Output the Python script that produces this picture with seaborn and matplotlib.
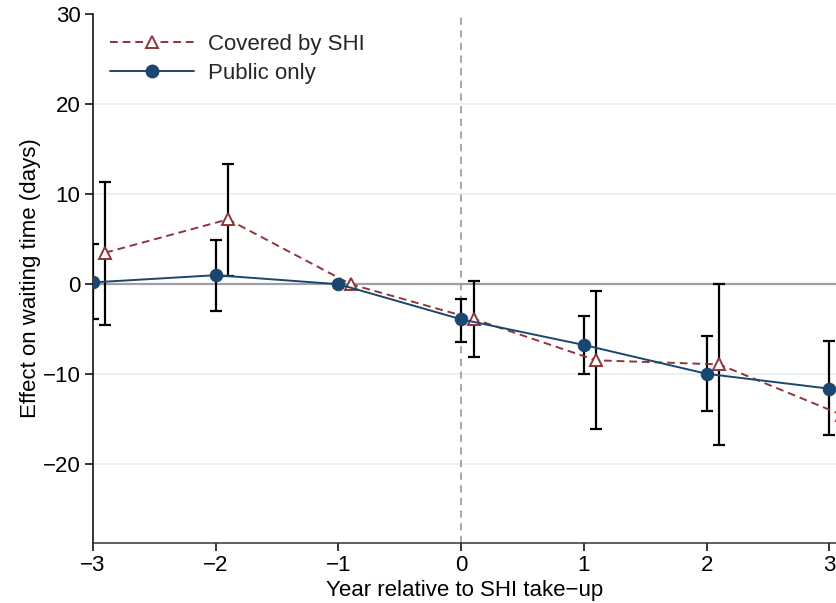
import numpy as np
import pandas as pd
import matplotlib
matplotlib.use("Agg")
import matplotlib.pyplot as plt
from matplotlib.lines import Line2D
import seaborn as sns

# Event-study estimates: effect on waiting time (days) by year relative to SHI take-up
years = [-3, -2, -1, 0, 1, 2, 3]

shi_coef = [3.5, 7.2, 0.0, -3.85, -8.45, -8.9, -14.5]
shi_lo = [-4.5, 0.9, 0.0, -8.1, -16.1, -17.9, -22.0]
shi_hi = [11.4, 13.3, 0.0, 0.4, -0.8, 0.0, -7.0]

pub_coef = [0.2, 1.0, 0.0, -3.9, -6.75, -9.95, -11.6]
pub_lo = [-3.9, -3.0, 0.0, -6.4, -10.0, -14.1, -16.7]
pub_hi = [4.5, 4.9, 0.0, -1.6, -3.5, -5.8, -6.3]

series_names = ["Covered by SHI", "Public only"]
shi_offset = 0.1

sns.set_theme(style="white")
plt.rcParams["font.family"] = ["Liberation Sans", "DejaVu Sans"]
plt.rcParams["axes.unicode_minus"] = True

maroon = "#90353b"
navy = "#1a476f"
FS = 16

df = pd.concat([
    pd.DataFrame({"x": np.array(years) + shi_offset, "y": shi_coef,
                  "lo": shi_lo, "hi": shi_hi, "group": series_names[0]}),
    pd.DataFrame({"x": np.array(years, dtype=float), "y": pub_coef,
                  "lo": pub_lo, "hi": pub_hi, "group": series_names[1]}),
], ignore_index=True)

fig = plt.figure(figsize=(8.36, 6.03), dpi=100)
ax = fig.add_axes([93 / 836, 1 - 542.7 / 603, (836 - 93) / 836, (542.7 - 14) / 603])

# light horizontal grid, zero line and take-up marker
for gy in [-20, -10, 10, 20]:
    ax.axhline(gy, color="#e8f0f2", lw=1.3, zorder=0)
ax.axhline(0, color="#a0a0a0", lw=1.6, zorder=1)
ax.axvline(0, color="#a0a0a0", lw=1.3, ls=(0, (4, 3)), zorder=1)

# confidence intervals (reference year has none)
for _, r in df.iterrows():
    if r["lo"] == r["hi"]:
        continue
    ax.errorbar(r["x"], r["y"], yerr=[[r["y"] - r["lo"]], [r["hi"] - r["y"]]],
                fmt="none", ecolor="black", elinewidth=1.6, capsize=4.5,
                capthick=1.6, zorder=2)

sns.lineplot(data=df, x="x", y="y", hue="group", style="group",
             hue_order=series_names, style_order=series_names,
             palette={series_names[0]: maroon, series_names[1]: navy},
             dashes={series_names[0]: (4, 2.5), series_names[1]: ""},
             markers={series_names[0]: "^", series_names[1]: "o"},
             markersize=9, lw=1.4, ax=ax, legend=False, zorder=3,
             estimator=None, sort=True)

# hollow triangles for the SHI series, filled circles for public-only
for ln in ax.get_lines():
    c = matplotlib.colors.to_hex(ln.get_color())
    if c == maroon:
        ln.set_markerfacecolor("white")
        ln.set_markeredgecolor(maroon)
        ln.set_markeredgewidth(1.4)
    elif c == navy:
        ln.set_markerfacecolor(navy)
        ln.set_markeredgecolor(navy)

handles = [
    Line2D([], [], color=maroon, ls=(0, (4, 2.5)), lw=1.4, marker="^",
           markersize=9, markerfacecolor="white", markeredgecolor=maroon,
           markeredgewidth=1.4),
    Line2D([], [], color=navy, lw=1.4, marker="o", markersize=9,
           markerfacecolor=navy, markeredgecolor=navy),
]
ax.legend(handles, series_names, loc="upper left", frameon=False,
          fontsize=FS, handlelength=3.75, handletextpad=0.63, labelspacing=0.35,
          bbox_to_anchor=(-0.011, 1.01), borderaxespad=0.75)

ax.set_xlim(-3, 3.053)
ax.set_ylim(-28.7, 30)
ax.set_xticks(years)
ax.set_yticks([-20, -10, 0, 10, 20, 30])
ax.tick_params(axis="both", direction="out", length=6, width=1.1,
               color="black", labelsize=FS, pad=3, labelcolor="black")
ax.tick_params(axis="x", bottom=True)
ax.tick_params(axis="y", left=True)
for side in ["top", "right"]:
    ax.spines[side].set_visible(False)
for side in ["left", "bottom"]:
    ax.spines[side].set_color("black")
    ax.spines[side].set_linewidth(1.1)
ax.spines["bottom"].set_color("#333333")
ax.set_facecolor("white")
ax.grid(False)

ax.set_xlabel("Year relative to SHI take\u2212up", fontsize=FS, color="black", labelpad=3)
ax.set_ylabel("Effect on waiting time (days)", fontsize=FS, color="black", labelpad=1)

fig.savefig("out.png", dpi=100, facecolor="white")
